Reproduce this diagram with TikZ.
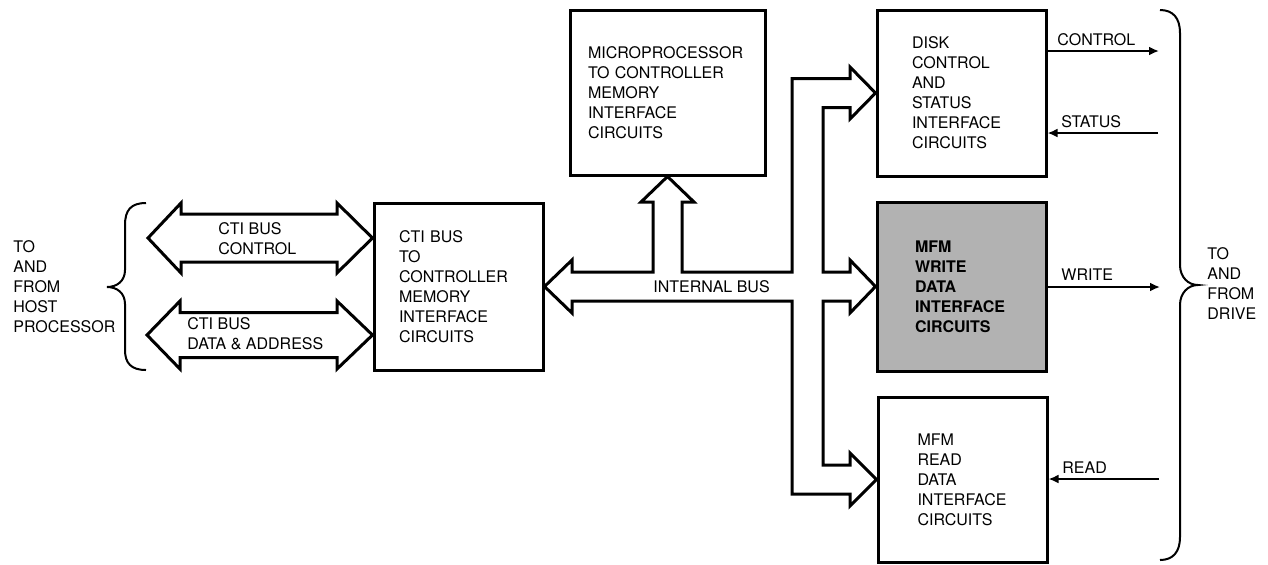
\documentclass[tikz,border=0pt]{standalone}
\usepackage{fontspec}
\setmainfont{TeX Gyre Heros}
\usetikzlibrary{arrows.meta}

\tikzset{
  blk/.style={draw, line width=1.5pt, align=left, inner sep=0pt, font=\fontsize{8}{10}\selectfont},
  lbl/.style={inner sep=0pt, anchor=west, align=left, font=\fontsize{8}{10}\selectfont},
  bus/.style={line width=1.5pt, line join=miter},
  sig/.style={line width=1pt, -{Latex[length=5pt,width=4.5pt]}},
  brc/.style={line width=1pt},
}

\begin{document}
\begin{tikzpicture}[x=0.5pt,y=-0.5pt]
  \useasboundingbox (0,0) rectangle (1268,564);
  % blocks
  \node[blk, minimum width=84.5pt, minimum height=83.5pt, text width=59.5pt] (cti) at (458.5,286.5)
    {CTI BUS\\TO\\CONTROLLER\\MEMORY\\INTERFACE\\CIRCUITS};
  \node[blk, minimum width=97.5pt, minimum height=82.5pt, text width=79.5pt] (micro) at (667.5,92.5)
    {MICROPROCESSOR\\TO CONTROLLER\\MEMORY\\INTERFACE\\CIRCUITS};
  \node[blk, minimum width=84.5pt, minimum height=83pt, text width=49.5pt] (disk) at (961.5,93)
    {DISK\\CONTROL\\AND\\STATUS\\INTERFACE\\CIRCUITS};
  \node[blk, fill=black!30, minimum width=84.5pt, minimum height=84.5pt, text width=46.5pt,
    font=\fontsize{8}{10}\selectfont\bfseries] (write) at (961.5,286.5)
    {MFM\\WRITE\\DATA\\INTERFACE\\CIRCUITS};
  \node[blk, minimum width=84.5pt, minimum height=82.5pt, text width=45pt] (read) at (962.5,479.5)
    {MFM\\READ\\DATA\\INTERFACE\\CIRCUITS};

  % side texts
  \node[lbl] (host) at (13,286.5) {TO\\AND\\FROM\\HOST\\PROCESSOR};
  \node[lbl] (drive) at (1207,284) {TO\\AND\\FROM\\DRIVE};

  % braces
  \draw[brc] (146,203) .. controls (131,203) and (125,210) .. (125,225) -- (125,270)
    .. controls (125,281) and (117,287) .. (107,287)
    .. controls (117,287) and (125,293) .. (125,304) -- (125,350)
    .. controls (125,363) and (131,370) .. (146,370);
  \draw[brc] (1160,10) .. controls (1173,10) and (1180,18) .. (1180,33) -- (1180,265)
    .. controls (1180,277) and (1188,285) .. (1198,285)
    .. controls (1188,285) and (1180,293) .. (1180,305) -- (1180,537)
    .. controls (1180,552) and (1173,560) .. (1160,560);

  % CTI buses to host
  \coordinate (hostC) at (148,238);
  \coordinate (hostD) at (147,335);
  \draw[bus] (hostC) -- (181,203) -- (181,214) -- (337,214) -- (337,203) -- (cti.west |- hostC)
    -- (337,273) -- (337,262) -- (181,262) -- (181,273) -- cycle;
  \draw[bus] (hostD) -- (180,301) -- (180,312.5) -- (337,312.5) -- (337,301) -- (cti.west |- hostD)
    -- (337,369) -- (337,357.5) -- (180,357.5) -- (180,369) -- cycle;
  \node[lbl] (ctlbus) at (218,239) {CTI BUS\\CONTROL};
  \node[lbl] (dabus) at (187,334) {CTI BUS\\DATA \& ADDRESS};

  % internal bus with its branches
  \draw[bus] (572,260) -- (cti.east) -- (572,313) -- (572,301) -- (792,301) -- (792,494)
    -- (850,494) -- (850,506) -- (read.west) -- (850,453) -- (850,465) -- (823,465)
    -- (823,301) -- (850,301) -- (850,313) -- (write.west) -- (850,260) -- (850,272)
    -- (823,272) -- (823,107.5) -- (850,107.5) -- (850,119) -- (disk.west) -- (850,67)
    -- (850,78.5) -- (792,78.5) -- (792,272) -- (682,272) -- (682,202) -- (694,202)
    -- (micro.south) -- (641,202) -- (653,202) -- (653,272) -- (572,272) -- cycle;
  \node[lbl] (ibus) at (653,287) {INTERNAL BUS};

  % drive signals
  \coordinate (ctlD) at (1159,51);
  \coordinate (staD) at (1158,133);
  \coordinate (wrD) at (1160,287);
  \coordinate (rdD) at (1159,479);
  \draw[sig] (disk.east |- ctlD) -- (ctlD);
  \draw[sig] (staD) -- (disk.east |- staD);
  \draw[sig] (write.east |- wrD) -- (wrD);
  \draw[sig] (rdD) -- (read.east |- rdD);
  \node[lbl] (ctllbl) at (1057,40) {CONTROL};
  \node[lbl] (stalbl) at (1061,122) {STATUS};
  \node[lbl] (wrlbl) at (1061,275) {WRITE};
  \node[lbl] (rdlbl) at (1062,468) {READ};
\end{tikzpicture}
\end{document}
